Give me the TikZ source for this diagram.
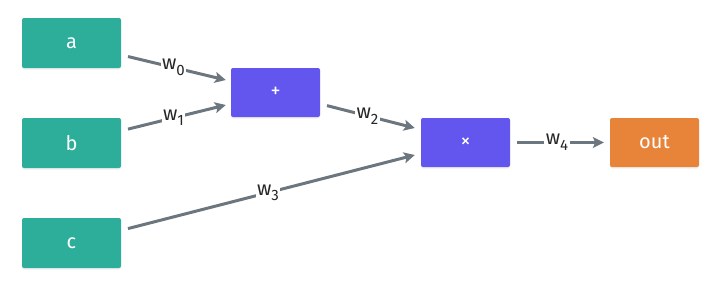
\documentclass[tikz,border=0pt]{standalone}
\usepackage{fontspec}
\setmainfont{Fira Sans}
\usetikzlibrary{arrows.meta,calc,shadows}
\definecolor{inteal}{HTML}{2DAE9A}
\definecolor{opviolet}{HTML}{6356EF}
\definecolor{outorange}{HTML}{E8843A}
\definecolor{wiregray}{HTML}{6C767E}
\newcommand{\wsub}[1]{w\raisebox{-0.28em}{\fontsize{15}{15}\selectfont #1}}

\begin{document}
\begin{tikzpicture}[
  x=1pt, y=-1pt,
  font=\fontsize{20}{24}\selectfont,
  >={Stealth[length=11pt, width=11pt, inset=2.5pt]},
  inbox/.style={rounded corners=2pt, fill=inteal, text=white, inner sep=0pt,
                minimum width=99pt, minimum height=50pt,
                drop shadow={opacity=0.12, shadow xshift=0pt, shadow yshift=-1.5pt}},
  opbox/.style={inbox, fill=opviolet, minimum width=89pt, minimum height=49pt},
  outbox/.style={opbox, fill=outorange},
  wire/.style={->, line width=3pt, draw=wiregray, shorten <=7pt},
  wlbl/.style={fill=white, inner sep=1.5pt, text=black!85},
]
\useasboundingbox (0,0) rectangle (720,290);

% ---- inputs (left column) ----
\node[inbox] (a) at (71.5, 43)  {a};
\node[inbox] (b) at (71.5,143)  {b};
\node[inbox] (c) at (71.5,243)  {c};

% ---- operations and output ----
\node[opbox]  (plus)  at (275.5, 92.5) {+};
\node[opbox]  (times) at (465.5,142.5) {×};
\node[outbox] (out)   at (654.5,142.5) {out};

% ---- arrow end points on the left side of each target ----
\coordinate (plusin0)  at ($(plus.west)+(-5,-12.5)$);
\coordinate (plusin1)  at ($(plus.west)+(-5,12.5)$);
\coordinate (timesin0) at ($(times.west)+(-6,-14.5)$);
\coordinate (timesin1) at ($(times.west)+(-6,12.5)$);
\coordinate (outin)    at ($(out.west)+(-6,0)$);

% ---- weighted connections ----
\draw[wire] (a)     -- node[wlbl]{\wsub{0}} (plusin0);
\draw[wire] (b)     -- node[wlbl]{\wsub{1}} (plusin1);
\draw[wire] (plus)  -- node[wlbl]{\wsub{2}} (timesin0);
\draw[wire] (c)     -- node[wlbl]{\wsub{3}} (timesin1);
\draw[wire] (times) -- node[wlbl]{\wsub{4}} (outin);
\end{tikzpicture}
\end{document}
